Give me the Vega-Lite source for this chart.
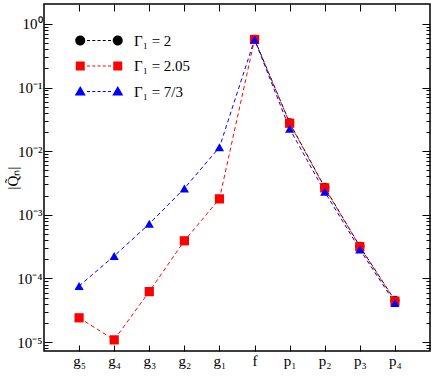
{
  "$schema": "https://vega.github.io/schema/vega-lite/v6.json",
  "width": 386,
  "height": 347,
  "autosize": {"type": "none"},
  "padding": {"left": 44, "top": 4, "right": 6, "bottom": 30},
  "config": {
    "view": {"stroke": "black", "strokeWidth": 1.5},
    "font": "Liberation Serif",
    "axis": {"tickColor": "black", "tickWidth": 1, "labelColor": "black", "titleColor": "black", "grid": false, "domain": false, "labelFont": "Liberation Serif", "titleFont": "Liberation Serif"},
    "legend": {"labelFont": "Liberation Serif"}
  },
  "data": {
    "values": [
      {"n": "f", "q": 0.575, "s": "Γ₁ = 2"},
      {"n": "p₁", "q": 0.028, "s": "Γ₁ = 2"},
      {"n": "p₂", "q": 0.0027, "s": "Γ₁ = 2"},
      {"n": "p₃", "q": 0.00032, "s": "Γ₁ = 2"},
      {"n": "p₄", "q": 0.000045, "s": "Γ₁ = 2"},
      {"n": "g₅", "q": 0.000024, "s": "Γ₁ = 2.05"},
      {"n": "g₄", "q": 0.0000108, "s": "Γ₁ = 2.05"},
      {"n": "g₃", "q": 0.000062, "s": "Γ₁ = 2.05"},
      {"n": "g₂", "q": 0.00039, "s": "Γ₁ = 2.05"},
      {"n": "g₁", "q": 0.00178, "s": "Γ₁ = 2.05"},
      {"n": "f", "q": 0.57, "s": "Γ₁ = 2.05"},
      {"n": "p₁", "q": 0.0275, "s": "Γ₁ = 2.05"},
      {"n": "p₂", "q": 0.00265, "s": "Γ₁ = 2.05"},
      {"n": "p₃", "q": 0.000315, "s": "Γ₁ = 2.05"},
      {"n": "p₄", "q": 0.000044, "s": "Γ₁ = 2.05"},
      {"n": "g₅", "q": 0.000076, "s": "Γ₁ = 7/3"},
      {"n": "g₄", "q": 0.000225, "s": "Γ₁ = 7/3"},
      {"n": "g₃", "q": 0.00072, "s": "Γ₁ = 7/3"},
      {"n": "g₂", "q": 0.0026, "s": "Γ₁ = 7/3"},
      {"n": "g₁", "q": 0.0115, "s": "Γ₁ = 7/3"},
      {"n": "f", "q": 0.57, "s": "Γ₁ = 7/3"},
      {"n": "p₁", "q": 0.0225, "s": "Γ₁ = 7/3"},
      {"n": "p₂", "q": 0.0023, "s": "Γ₁ = 7/3"},
      {"n": "p₃", "q": 0.000285, "s": "Γ₁ = 7/3"},
      {"n": "p₄", "q": 0.000041, "s": "Γ₁ = 7/3"}
    ]
  },
  "layer": [
    {
      "mark": {"type": "line", "strokeDash": [4, 3], "strokeWidth": 1},
      "encoding": {
        "x": {
          "field": "n", "type": "ordinal",
          "scale": {"type": "point", "padding": 1, "domain": ["g₅", "g₄", "g₃", "g₂", "g₁", "f", "p₁", "p₂", "p₃", "p₄"]},
          "axis": {"orient": "bottom", "title": null, "labelAngle": 0, "tickSize": -6, "labelFontSize": 15, "labelPadding": 8}
        },
        "y": {
          "field": "q", "type": "quantitative",
          "scale": {"type": "log", "domain": [0.00000722, 2.06], "nice": false},
          "axis": {
            "orient": "left",
            "title": "|Q̃ₙ|",
            "titleFontSize": 15,
            "titleFontWeight": "normal",
            "titlePadding": -4,
            "labelFontSize": 15,
            "labelPadding": 10,
            "values": [0.000008, 0.000009, 0.00001, 0.00002, 0.00003, 0.00004, 0.00005, 0.00006, 0.00007, 0.00008, 0.00009, 0.0001, 0.0002, 0.0003, 0.0004, 0.0005, 0.0006, 0.0007, 0.0008, 0.0009, 0.001, 0.002, 0.003, 0.004, 0.005, 0.006, 0.007, 0.008, 0.009, 0.01, 0.02, 0.03, 0.04, 0.05, 0.06, 0.07, 0.08, 0.09, 0.1, 0.2, 0.3, 0.4, 0.5, 0.6, 0.7, 0.8, 0.9, 1],
            "tickSize": {"condition": {"test": "abs(log(datum.value)/LN10 - round(log(datum.value)/LN10)) < 0.001", "value": -8}, "value": -4},
            "labelExpr": "abs(log(datum.value)/LN10 - round(log(datum.value)/LN10)) < 0.001 ? '10' + ['⁰','⁻¹','⁻²','⁻³','⁻⁴','⁻⁵'][-round(log(datum.value)/LN10)] : ''"
          }
        },
        "color": {"field": "s", "type": "nominal", "scale": {"domain": ["Γ₁ = 2", "Γ₁ = 2.05", "Γ₁ = 7/3"], "range": ["#000000", "#ff0000", "#0000ff"]}, "legend": null},
        "order": {"value": null}
      }
    },
    {
      "mark": {"type": "point", "filled": true, "opacity": 1, "size": 85},
      "encoding": {
        "x": {
          "field": "n", "type": "ordinal",
          "scale": {"type": "point", "padding": 1, "domain": ["g₅", "g₄", "g₃", "g₂", "g₁", "f", "p₁", "p₂", "p₃", "p₄"]},
          "axis": {"orient": "top", "title": null, "labels": false, "tickSize": -7}
        },
        "y": {
          "field": "q", "type": "quantitative",
          "scale": {"type": "log", "domain": [0.00000722, 2.06], "nice": false},
          "axis": {
            "orient": "right", "title": null, "labels": false,
            "values": [0.000008, 0.000009, 0.00001, 0.00002, 0.00003, 0.00004, 0.00005, 0.00006, 0.00007, 0.00008, 0.00009, 0.0001, 0.0002, 0.0003, 0.0004, 0.0005, 0.0006, 0.0007, 0.0008, 0.0009, 0.001, 0.002, 0.003, 0.004, 0.005, 0.006, 0.007, 0.008, 0.009, 0.01, 0.02, 0.03, 0.04, 0.05, 0.06, 0.07, 0.08, 0.09, 0.1, 0.2, 0.3, 0.4, 0.5, 0.6, 0.7, 0.8, 0.9, 1],
            "tickSize": {"condition": {"test": "abs(log(datum.value)/LN10 - round(log(datum.value)/LN10)) < 0.001", "value": -8}, "value": -4}
          }
        },
        "color": {"field": "s", "type": "nominal", "scale": {"domain": ["Γ₁ = 2", "Γ₁ = 2.05", "Γ₁ = 7/3"], "range": ["#000000", "#ff0000", "#0000ff"]}, "legend": null},
        "shape": {"field": "s", "type": "nominal", "scale": {"domain": ["Γ₁ = 2", "Γ₁ = 2.05", "Γ₁ = 7/3"], "range": ["circle", "square", "triangle-up"]}, "legend": null}
      }
    },
    {
      "transform": [{"filter": "false"}],
      "mark": {"type": "point", "filled": true, "opacity": 1},
      "encoding": {
        "color": {"field": "s", "type": "nominal", "scale": {"domain": ["Γ₁ = 2", "Γ₁ = 2.05", "Γ₁ = 7/3"], "range": ["#000000", "#ff0000", "#0000ff"]},
          "legend": {"orient": "none", "legendX": 47.5, "legendY": 29, "title": null, "symbolSize": 100, "symbolStrokeWidth": 0, "labelFont": "Liberation Serif", "labelFontSize": 15, "labelOffset": 27.5, "rowPadding": 9.5, "padding": 0, "labelColor": "black"}},
        "shape": {"field": "s", "type": "nominal", "scale": {"domain": ["Γ₁ = 2", "Γ₁ = 2.05", "Γ₁ = 7/3"], "range": [
          "M -2.75 0 A 1 1 0 1 1 -4.75 0 A 1 1 0 1 1 -2.75 0 Z M 4.75 0 A 1 1 0 1 1 2.75 0 A 1 1 0 1 1 4.75 0 Z M -2.4 -0.12 H -1.8 V 0.12 H -2.4 Z M -1.35 -0.12 H -0.75 V 0.12 H -1.35 Z M -0.3 -0.12 H 0.3 V 0.12 H -0.3 Z M 0.75 -0.12 H 1.35 V 0.12 H 0.75 Z M 1.8 -0.12 H 2.4 V 0.12 H 1.8 Z",
          "M -4.65 -0.9 H -2.85 V 0.9 H -4.65 Z M 2.85 -0.9 H 4.65 V 0.9 H 2.85 Z M -2.4 -0.12 H -1.8 V 0.12 H -2.4 Z M -1.35 -0.12 H -0.75 V 0.12 H -1.35 Z M -0.3 -0.12 H 0.3 V 0.12 H -0.3 Z M 0.75 -0.12 H 1.35 V 0.12 H 0.75 Z M 1.8 -0.12 H 2.4 V 0.12 H 1.8 Z",
          "M -3.75 -1.1 L -2.65 0.8 L -4.85 0.8 Z M 3.75 -1.1 L 4.85 0.8 L 2.65 0.8 Z M -2.4 -0.12 H -1.8 V 0.12 H -2.4 Z M -1.35 -0.12 H -0.75 V 0.12 H -1.35 Z M -0.3 -0.12 H 0.3 V 0.12 H -0.3 Z M 0.75 -0.12 H 1.35 V 0.12 H 0.75 Z M 1.8 -0.12 H 2.4 V 0.12 H 1.8 Z"
        ]}, "legend": null}
      }
    }
  ],
  "resolve": {"scale": {"color": "independent", "shape": "independent"}, "axis": {"x": "independent", "y": "independent"}}
}
